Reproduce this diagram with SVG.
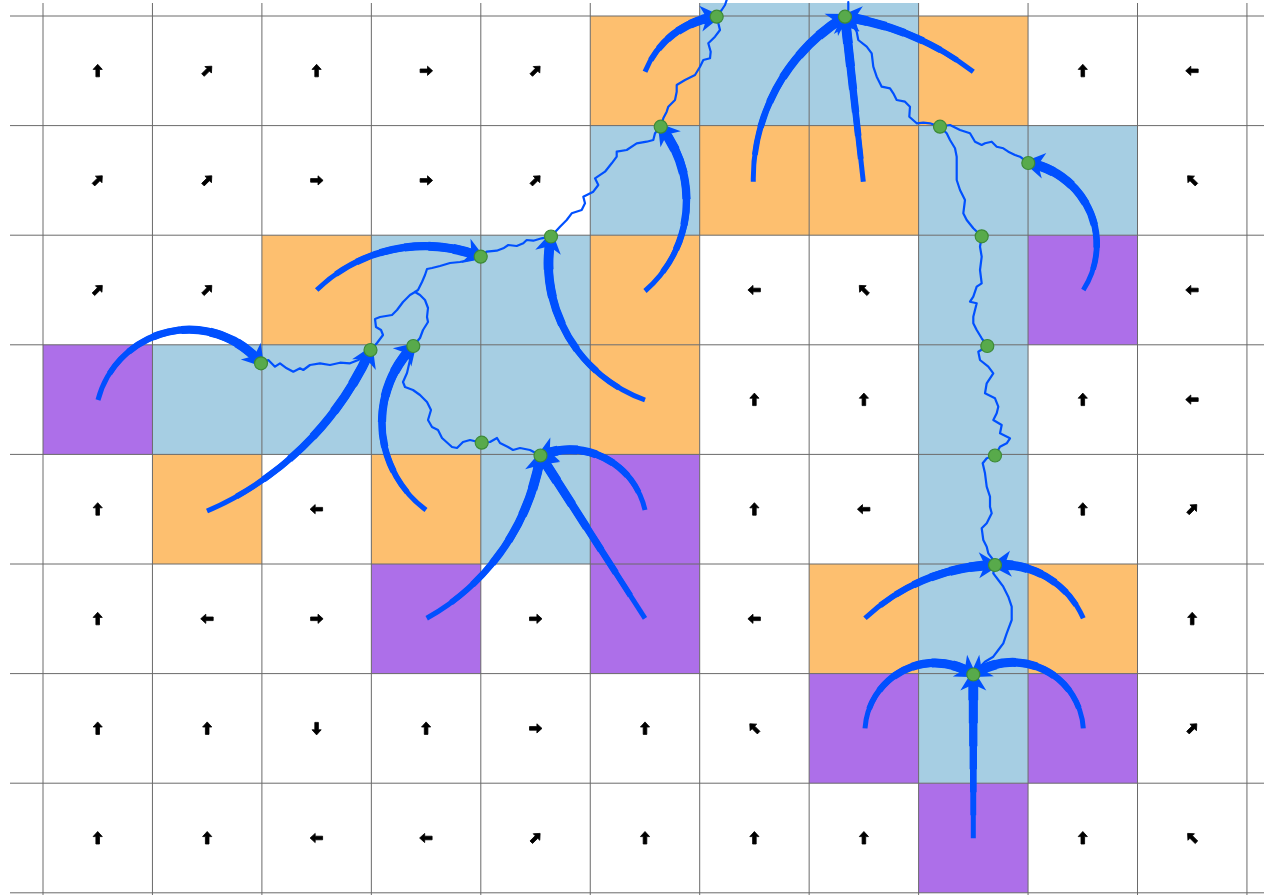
<svg xmlns="http://www.w3.org/2000/svg" xmlns:xlink="http://www.w3.org/1999/xlink" width="1264" height="895" viewBox="0 0 1264 895">
<style>
.or{fill:#fdbf6f}
.bl{fill:#a6cee3}
.pu{fill:#ad6fe9}
.gl{stroke:#6a6a6a;stroke-width:1;fill:none}
.sa{fill:#000;stroke:#000;stroke-width:0.8;stroke-linejoin:round}
.rv{fill:none;stroke:#0050ff;stroke-width:2.2;stroke-linejoin:round;stroke-linecap:round}
.fl{fill:none;stroke:#0050ff}
.w1{stroke-width:5}
.w2{stroke-width:5.8}
.w3{stroke-width:6.6}
.w4{stroke-width:7.4}
.w5{stroke-width:8.2}
.w6{stroke-width:9}
.w7{stroke-width:9.8;marker-end:url(#head)}
.dot{fill:#58aa4b;stroke:#3d8a37;stroke-width:1.2}
</style>
<defs>
<marker id="head" markerUnits="userSpaceOnUse" markerWidth="34" markerHeight="34" viewBox="-22 -17 34 34" refX="0" refY="0" orient="auto" overflow="visible">
<path d="M5,0 L-16,-13 L-10,0 L-16,13 Z" fill="#0050ff" stroke="none"/>
</marker>
<path id="sa" d="M0,-6.5 L4.6,-1.4 L1.8,-1.4 L1.8,6 L-1.8,6 L-1.8,-1.4 L-4.6,-1.4 Z"/>
<path id="a1" d="M98,400 A94,94 0 0 1 261,363.3"/>
<path id="a2" d="M207,511 A316,316 0 0 0 370.5,350"/>
<path id="a3" d="M316.7,290 A155,155 0 0 1 480.7,256.7"/>
<path id="a4" d="M426,510 A109,109 0 0 1 413.3,346"/>
<path id="a5" d="M426.7,618.3 A227,227 0 0 0 540.5,455.5"/>
<path id="a6" d="M645,618.3 L540.5,455.5"/>
<path id="a7" d="M645,510 A77,77 0 0 0 540.5,455.5"/>
<path id="a8" d="M645,400 A145,145 0 0 1 551,236.5"/>
<path id="a9" d="M645,291 A119,119 0 0 0 660.7,126.7"/>
<path id="a10" d="M645,71.7 A88.7,88.7 0 0 1 716.7,16.7"/>
<path id="a11" d="M753.3,181.7 A189.5,189.5 0 0 1 845,16.7"/>
<path id="a12" d="M863.3,181.7 L845,16.7"/>
<path id="a13" d="M973.3,71.7 A285,285 0 0 0 845,16.7"/>
<path id="a14" d="M1083.3,290 A83,83 0 0 0 1028.3,163"/>
<path id="a15" d="M865,618.3 A195.7,195.7 0 0 1 995,565"/>
<path id="a16" d="M1083.3,618.3 A89,89 0 0 0 995,565"/>
<path id="a17" d="M865,728.3 A70,70 0 0 1 973.3,674.5"/>
<path id="a18" d="M1083.3,728.3 A70.6,70.6 0 0 0 973.3,674.5"/>
<path id="a19" d="M973.3,838.3 L973.3,674.5"/>
</defs>
<rect x="0" y="0" width="1264" height="895" fill="#fff"/>
<g id="cells">
<rect class="bl" x="699.7" y="3" width="218.9" height="13"/>
<rect class="or" x="590.25" y="16" width="109.45" height="109.6"/>
<rect class="bl" x="699.7" y="16" width="109.45" height="109.6"/>
<rect class="bl" x="809.15" y="16" width="109.45" height="109.6"/>
<rect class="or" x="918.6" y="16" width="109.45" height="109.6"/>
<rect class="bl" x="590.25" y="125.6" width="109.45" height="109.6"/>
<rect class="or" x="699.7" y="125.6" width="109.45" height="109.6"/>
<rect class="or" x="809.15" y="125.6" width="109.45" height="109.6"/>
<rect class="bl" x="918.6" y="125.6" width="109.45" height="109.6"/>
<rect class="bl" x="1028.05" y="125.6" width="109.45" height="109.6"/>
<rect class="or" x="261.9" y="235.2" width="109.45" height="109.6"/>
<rect class="bl" x="371.35" y="235.2" width="109.45" height="109.6"/>
<rect class="bl" x="480.8" y="235.2" width="109.45" height="109.6"/>
<rect class="or" x="590.25" y="235.2" width="109.45" height="109.6"/>
<rect class="bl" x="918.6" y="235.2" width="109.45" height="109.6"/>
<rect class="pu" x="1028.05" y="235.2" width="109.45" height="109.6"/>
<rect class="pu" x="43" y="344.8" width="109.45" height="109.6"/>
<rect class="bl" x="152.45" y="344.8" width="109.45" height="109.6"/>
<rect class="bl" x="261.9" y="344.8" width="109.45" height="109.6"/>
<rect class="bl" x="371.35" y="344.8" width="109.45" height="109.6"/>
<rect class="bl" x="480.8" y="344.8" width="109.45" height="109.6"/>
<rect class="or" x="590.25" y="344.8" width="109.45" height="109.6"/>
<rect class="bl" x="918.6" y="344.8" width="109.45" height="109.6"/>
<rect class="or" x="152.45" y="454.4" width="109.45" height="109.6"/>
<rect class="or" x="371.35" y="454.4" width="109.45" height="109.6"/>
<rect class="bl" x="480.8" y="454.4" width="109.45" height="109.6"/>
<rect class="pu" x="590.25" y="454.4" width="109.45" height="109.6"/>
<rect class="bl" x="918.6" y="454.4" width="109.45" height="109.6"/>
<rect class="pu" x="371.35" y="564" width="109.45" height="109.6"/>
<rect class="pu" x="590.25" y="564" width="109.45" height="109.6"/>
<rect class="or" x="809.15" y="564" width="109.45" height="109.6"/>
<rect class="bl" x="918.6" y="564" width="109.45" height="109.6"/>
<rect class="or" x="1028.05" y="564" width="109.45" height="109.6"/>
<rect class="pu" x="809.15" y="673.6" width="109.45" height="109.6"/>
<rect class="bl" x="918.6" y="673.6" width="109.45" height="109.6"/>
<rect class="pu" x="1028.05" y="673.6" width="109.45" height="109.6"/>
<rect class="pu" x="918.6" y="783.2" width="109.45" height="109.6"/>
</g>
<g id="grid" class="gl">
<path d="M43,3V895M152.45,3V895M261.9,3V895M371.35,3V895M480.8,3V895M590.25,3V895M699.7,3V895M809.15,3V895M918.6,3V895M1028.05,3V895M1137.5,3V895M1246.95,3V895"/>
<path d="M10,16H1264M10,125.6H1264M10,235.2H1264M10,344.8H1264M10,454.4H1264M10,564H1264M10,673.6H1264M10,783.2H1264M10,892.8H1264"/>
</g>
<g id="flow-arrows" class="sa">
<use href="#sa" transform="translate(97.7,70.8)"/>
<use href="#sa" transform="translate(207.2,70.8) rotate(45)"/>
<use href="#sa" transform="translate(316.6,70.8)"/>
<use href="#sa" transform="translate(426.1,70.8) rotate(90)"/>
<use href="#sa" transform="translate(535.5,70.8) rotate(45)"/>
<use href="#sa" transform="translate(1082.8,70.8)"/>
<use href="#sa" transform="translate(1192.2,70.8) rotate(-90)"/>
<use href="#sa" transform="translate(97.7,180.4) rotate(45)"/>
<use href="#sa" transform="translate(207.2,180.4) rotate(45)"/>
<use href="#sa" transform="translate(316.6,180.4) rotate(90)"/>
<use href="#sa" transform="translate(426.1,180.4) rotate(90)"/>
<use href="#sa" transform="translate(535.5,180.4) rotate(45)"/>
<use href="#sa" transform="translate(1192.2,180.4) rotate(-45)"/>
<use href="#sa" transform="translate(97.7,290) rotate(45)"/>
<use href="#sa" transform="translate(207.2,290) rotate(45)"/>
<use href="#sa" transform="translate(754.4,290) rotate(-90)"/>
<use href="#sa" transform="translate(863.9,290) rotate(-45)"/>
<use href="#sa" transform="translate(1192.2,290) rotate(-90)"/>
<use href="#sa" transform="translate(754.4,399.6)"/>
<use href="#sa" transform="translate(863.9,399.6)"/>
<use href="#sa" transform="translate(1082.8,399.6)"/>
<use href="#sa" transform="translate(1192.2,399.6) rotate(-90)"/>
<use href="#sa" transform="translate(97.7,509.2)"/>
<use href="#sa" transform="translate(316.6,509.2) rotate(-90)"/>
<use href="#sa" transform="translate(754.4,509.2)"/>
<use href="#sa" transform="translate(863.9,509.2) rotate(-90)"/>
<use href="#sa" transform="translate(1082.8,509.2)"/>
<use href="#sa" transform="translate(1192.2,509.2) rotate(45)"/>
<use href="#sa" transform="translate(97.7,618.8)"/>
<use href="#sa" transform="translate(207.2,618.8) rotate(-90)"/>
<use href="#sa" transform="translate(316.6,618.8) rotate(90)"/>
<use href="#sa" transform="translate(535.5,618.8) rotate(90)"/>
<use href="#sa" transform="translate(754.4,618.8) rotate(-90)"/>
<use href="#sa" transform="translate(1192.2,618.8)"/>
<use href="#sa" transform="translate(97.7,728.4)"/>
<use href="#sa" transform="translate(207.2,728.4)"/>
<use href="#sa" transform="translate(316.6,728.4) rotate(180)"/>
<use href="#sa" transform="translate(426.1,728.4)"/>
<use href="#sa" transform="translate(535.5,728.4) rotate(90)"/>
<use href="#sa" transform="translate(645,728.4)"/>
<use href="#sa" transform="translate(754.4,728.4) rotate(-45)"/>
<use href="#sa" transform="translate(1192.2,728.4) rotate(45)"/>
<use href="#sa" transform="translate(97.7,838)"/>
<use href="#sa" transform="translate(207.2,838)"/>
<use href="#sa" transform="translate(316.6,838) rotate(-90)"/>
<use href="#sa" transform="translate(426.1,838) rotate(-90)"/>
<use href="#sa" transform="translate(535.5,838) rotate(45)"/>
<use href="#sa" transform="translate(645,838)"/>
<use href="#sa" transform="translate(754.4,838)"/>
<use href="#sa" transform="translate(863.9,838)"/>
<use href="#sa" transform="translate(1082.8,838)"/>
<use href="#sa" transform="translate(1192.2,838) rotate(-45)"/>
</g>
<g id="connectors">
<g id="rivers" class="rv">
<polyline points="261,363.3 268.3,360 275,366.7 280,363.3 286.7,368.3 293.3,371.7 300,368.3 303.3,370 310,365 320,363.3 330,365 340,362.7 350,363.3 358.3,360 363.3,356.7 370.5,350"/>
<polyline points="370.5,350 377,343 383,335 381,330 376,327 375,319 380,317 392,315 397,310 403,302 410,295 415,292 418,290 422,282 425,275 427,269 432,268 440,266 450,263 460,262 473,259 480.7,256.7"/>
<polyline points="413.3,346 420,338 423,330 428,322 427,317 428,308 425,300 420,295 415,292"/>
<polyline points="480.7,256.7 486.7,251.7 496.7,250.7 503.3,248.3 508.3,245 516.7,246 523.3,243.3 526.7,240 533.3,240.7 541.7,238.3 551,236.5"/>
<polyline points="551,236.5 560,226.7 566.7,220 571.7,213.3 581.7,210 585,203.3 583.3,196.7 593.3,191.7 598.3,185 595,178.3 605,171.7 611.7,163.3 616.7,156.7 616.7,151.7 626.7,150 636.7,143.3 646.7,141.7 653.3,140 655,133.3 660.7,126.7"/>
<polyline points="660.7,126.7 663.3,118.3 666.7,111.7 668.3,106.7 675,100 676.7,91.7 676.7,85 685,80 695,75 700,66.7 703.3,60 710,58.3 710.7,51.7 708.3,43.3 715,36.7 720,30 716.7,16.7 721.7,10 725,5 726.7,0"/>
<polyline points="540.5,455.5 530,450 520,448 513,450 508,447 500,443 497,438 490,442 481.7,442.7 470,440 463,442 457,448 452,447 442,438 438,430 432,427 428,420 431,410 427,402 420,395 413,390 405,387 403,382 407,373 410,360 413.3,346"/>
<polyline points="845,16.7 848.3,10 848.3,2"/>
<polyline points="940,126.7 930,123.3 923.3,122.7 916.7,123.3 909.3,116.7 910,106.7 905,101.7 896.7,100 893.3,93.3 890,88.3 881.7,86.7 876.7,76.7 873.3,66.7 871.7,53.3 866.7,46.7 858.3,40 856.7,31.7 851.7,23.3 845,16.7"/>
<polyline points="1028.3,163 1020,156.7 1015,155 1008.3,151.7 1003.3,148.3 996.7,146.7 991.7,141.7 985,143.3 981.7,145 975,141.7 970,133.3 960,130 950,125 940,126.7"/>
<polyline points="981.7,236.3 973.3,228.3 966.7,220 963.3,213.3 965,200 960,190 956.7,180 956.7,170 956.7,156.7 955,148.3 950,140 946.7,133.3 940,126.7"/>
<polyline points="987.3,346 981.7,338.3 976.7,330 973.3,323.3 973.3,316.7 976.7,303.3 970,301.7 973.3,296.7 976.7,286.7 981.7,283.3 980,270 981.7,256.7 980,246.7 981.7,236.3"/>
<polyline points="995,455.5 1000,446.7 1006.7,443.3 1010,438.3 1000,433.3 1001.7,425 993.3,420 996.7,413.3 998.3,406.7 995,398.3 985,393.3 986.7,383.3 993.3,373.3 988.3,366.7 980,360 978.3,351.7 987.3,346"/>
<polyline points="995,565 993.3,560 988.3,553.3 986.7,546.7 983.3,540 981.7,528.3 986.7,523.3 991.7,513.3 990,506.7 990,496.7 986.7,486.7 985,473.3 982.7,463.3 986.7,458.3 995,455.5"/>
<polyline points="973.3,674.5 980,666.7 985,661.7 993.3,656.7 998.3,650 1003.3,643.3 1006.7,633.3 1011.7,620 1011.7,606.7 1008.3,596.7 1003.3,586.7 998.3,580 993.3,573.3 995,565"/>
</g>
<g id="flows">
<g id="f1" class="fl"><use href="#a1" class="w1"/><use href="#a1" class="w2" style="stroke-dasharray:0 29 9999"/><use href="#a1" class="w3" style="stroke-dasharray:0 58 9999"/><use href="#a1" class="w4" style="stroke-dasharray:0 87 9999"/><use href="#a1" class="w5" style="stroke-dasharray:0 116 9999"/><use href="#a1" class="w6" style="stroke-dasharray:0 145 9999"/><use href="#a1" class="w7" style="stroke-dasharray:0 174 9999"/></g>
<g id="f2" class="fl"><use href="#a2" class="w1"/><use href="#a2" class="w2" style="stroke-dasharray:0 33 9999"/><use href="#a2" class="w3" style="stroke-dasharray:0 65 9999"/><use href="#a2" class="w4" style="stroke-dasharray:0 98 9999"/><use href="#a2" class="w5" style="stroke-dasharray:0 130 9999"/><use href="#a2" class="w6" style="stroke-dasharray:0 163 9999"/><use href="#a2" class="w7" style="stroke-dasharray:0 196 9999"/></g>
<g id="f3" class="fl"><use href="#a3" class="w1"/><use href="#a3" class="w2" style="stroke-dasharray:0 25 9999"/><use href="#a3" class="w3" style="stroke-dasharray:0 49 9999"/><use href="#a3" class="w4" style="stroke-dasharray:0 74 9999"/><use href="#a3" class="w5" style="stroke-dasharray:0 99 9999"/><use href="#a3" class="w6" style="stroke-dasharray:0 123 9999"/><use href="#a3" class="w7" style="stroke-dasharray:0 148 9999"/></g>
<g id="f4" class="fl"><use href="#a4" class="w1"/><use href="#a4" class="w2" style="stroke-dasharray:0 26 9999"/><use href="#a4" class="w3" style="stroke-dasharray:0 51 9999"/><use href="#a4" class="w4" style="stroke-dasharray:0 77 9999"/><use href="#a4" class="w5" style="stroke-dasharray:0 102 9999"/><use href="#a4" class="w6" style="stroke-dasharray:0 128 9999"/><use href="#a4" class="w7" style="stroke-dasharray:0 154 9999"/></g>
<g id="f5" class="fl"><use href="#a5" class="w1"/><use href="#a5" class="w2" style="stroke-dasharray:0 29 9999"/><use href="#a5" class="w3" style="stroke-dasharray:0 57 9999"/><use href="#a5" class="w4" style="stroke-dasharray:0 86 9999"/><use href="#a5" class="w5" style="stroke-dasharray:0 114 9999"/><use href="#a5" class="w6" style="stroke-dasharray:0 143 9999"/><use href="#a5" class="w7" style="stroke-dasharray:0 171 9999"/></g>
<g id="f6" class="fl"><use href="#a6" class="w1"/><use href="#a6" class="w2" style="stroke-dasharray:0 27 9999"/><use href="#a6" class="w3" style="stroke-dasharray:0 54 9999"/><use href="#a6" class="w4" style="stroke-dasharray:0 81 9999"/><use href="#a6" class="w5" style="stroke-dasharray:0 108 9999"/><use href="#a6" class="w6" style="stroke-dasharray:0 135 9999"/><use href="#a6" class="w7" style="stroke-dasharray:0 163 9999"/></g>
<g id="f7" class="fl"><use href="#a7" class="w1"/><use href="#a7" class="w2" style="stroke-dasharray:0 19 9999"/><use href="#a7" class="w3" style="stroke-dasharray:0 39 9999"/><use href="#a7" class="w4" style="stroke-dasharray:0 58 9999"/><use href="#a7" class="w5" style="stroke-dasharray:0 77 9999"/><use href="#a7" class="w6" style="stroke-dasharray:0 96 9999"/><use href="#a7" class="w7" style="stroke-dasharray:0 116 9999"/></g>
<g id="f8" class="fl"><use href="#a8" class="w1"/><use href="#a8" class="w2" style="stroke-dasharray:0 29 9999"/><use href="#a8" class="w3" style="stroke-dasharray:0 57 9999"/><use href="#a8" class="w4" style="stroke-dasharray:0 86 9999"/><use href="#a8" class="w5" style="stroke-dasharray:0 115 9999"/><use href="#a8" class="w6" style="stroke-dasharray:0 144 9999"/><use href="#a8" class="w7" style="stroke-dasharray:0 172 9999"/></g>
<g id="f9" class="fl"><use href="#a9" class="w1"/><use href="#a9" class="w2" style="stroke-dasharray:0 26 9999"/><use href="#a9" class="w3" style="stroke-dasharray:0 52 9999"/><use href="#a9" class="w4" style="stroke-dasharray:0 78 9999"/><use href="#a9" class="w5" style="stroke-dasharray:0 104 9999"/><use href="#a9" class="w6" style="stroke-dasharray:0 130 9999"/><use href="#a9" class="w7" style="stroke-dasharray:0 155 9999"/></g>
<g id="f10" class="fl"><use href="#a10" class="w1"/><use href="#a10" class="w2" style="stroke-dasharray:0 13 9999"/><use href="#a10" class="w3" style="stroke-dasharray:0 27 9999"/><use href="#a10" class="w4" style="stroke-dasharray:0 40 9999"/><use href="#a10" class="w5" style="stroke-dasharray:0 53 9999"/><use href="#a10" class="w6" style="stroke-dasharray:0 67 9999"/><use href="#a10" class="w7" style="stroke-dasharray:0 80 9999"/></g>
<g id="f11" class="fl"><use href="#a11" class="w1"/><use href="#a11" class="w2" style="stroke-dasharray:0 27 9999"/><use href="#a11" class="w3" style="stroke-dasharray:0 55 9999"/><use href="#a11" class="w4" style="stroke-dasharray:0 82 9999"/><use href="#a11" class="w5" style="stroke-dasharray:0 110 9999"/><use href="#a11" class="w6" style="stroke-dasharray:0 137 9999"/><use href="#a11" class="w7" style="stroke-dasharray:0 165 9999"/></g>
<g id="f12" class="fl"><use href="#a12" class="w1"/><use href="#a12" class="w2" style="stroke-dasharray:0 23 9999"/><use href="#a12" class="w3" style="stroke-dasharray:0 46 9999"/><use href="#a12" class="w4" style="stroke-dasharray:0 70 9999"/><use href="#a12" class="w5" style="stroke-dasharray:0 93 9999"/><use href="#a12" class="w6" style="stroke-dasharray:0 116 9999"/><use href="#a12" class="w7" style="stroke-dasharray:0 139 9999"/></g>
<g id="f13" class="fl"><use href="#a13" class="w1"/><use href="#a13" class="w2" style="stroke-dasharray:0 20 9999"/><use href="#a13" class="w3" style="stroke-dasharray:0 39 9999"/><use href="#a13" class="w4" style="stroke-dasharray:0 59 9999"/><use href="#a13" class="w5" style="stroke-dasharray:0 79 9999"/><use href="#a13" class="w6" style="stroke-dasharray:0 99 9999"/><use href="#a13" class="w7" style="stroke-dasharray:0 118 9999"/></g>
<g id="f14" class="fl"><use href="#a14" class="w1"/><use href="#a14" class="w2" style="stroke-dasharray:0 23 9999"/><use href="#a14" class="w3" style="stroke-dasharray:0 45 9999"/><use href="#a14" class="w4" style="stroke-dasharray:0 68 9999"/><use href="#a14" class="w5" style="stroke-dasharray:0 91 9999"/><use href="#a14" class="w6" style="stroke-dasharray:0 114 9999"/><use href="#a14" class="w7" style="stroke-dasharray:0 137 9999"/></g>
<g id="f15" class="fl"><use href="#a15" class="w1"/><use href="#a15" class="w2" style="stroke-dasharray:0 20 9999"/><use href="#a15" class="w3" style="stroke-dasharray:0 39 9999"/><use href="#a15" class="w4" style="stroke-dasharray:0 59 9999"/><use href="#a15" class="w5" style="stroke-dasharray:0 78 9999"/><use href="#a15" class="w6" style="stroke-dasharray:0 98 9999"/><use href="#a15" class="w7" style="stroke-dasharray:0 118 9999"/></g>
<g id="f16" class="fl"><use href="#a16" class="w1"/><use href="#a16" class="w2" style="stroke-dasharray:0 15 9999"/><use href="#a16" class="w3" style="stroke-dasharray:0 31 9999"/><use href="#a16" class="w4" style="stroke-dasharray:0 46 9999"/><use href="#a16" class="w5" style="stroke-dasharray:0 62 9999"/><use href="#a16" class="w6" style="stroke-dasharray:0 77 9999"/><use href="#a16" class="w7" style="stroke-dasharray:0 92 9999"/></g>
<g id="f17" class="fl"><use href="#a17" class="w1"/><use href="#a17" class="w2" style="stroke-dasharray:0 20 9999"/><use href="#a17" class="w3" style="stroke-dasharray:0 41 9999"/><use href="#a17" class="w4" style="stroke-dasharray:0 61 9999"/><use href="#a17" class="w5" style="stroke-dasharray:0 82 9999"/><use href="#a17" class="w6" style="stroke-dasharray:0 102 9999"/><use href="#a17" class="w7" style="stroke-dasharray:0 123 9999"/></g>
<g id="f18" class="fl"><use href="#a18" class="w1"/><use href="#a18" class="w2" style="stroke-dasharray:0 21 9999"/><use href="#a18" class="w3" style="stroke-dasharray:0 41 9999"/><use href="#a18" class="w4" style="stroke-dasharray:0 62 9999"/><use href="#a18" class="w5" style="stroke-dasharray:0 82 9999"/><use href="#a18" class="w6" style="stroke-dasharray:0 103 9999"/><use href="#a18" class="w7" style="stroke-dasharray:0 123 9999"/></g>
<g id="f19" class="fl"><use href="#a19" class="w1"/><use href="#a19" class="w2" style="stroke-dasharray:0 23 9999"/><use href="#a19" class="w3" style="stroke-dasharray:0 46 9999"/><use href="#a19" class="w4" style="stroke-dasharray:0 69 9999"/><use href="#a19" class="w5" style="stroke-dasharray:0 92 9999"/><use href="#a19" class="w6" style="stroke-dasharray:0 115 9999"/><use href="#a19" class="w7" style="stroke-dasharray:0 138 9999"/></g>
</g>
</g>
<g id="nodes">
<circle id="n1" class="dot" cx="716.7" cy="16.7" r="6.5"/>
<circle id="n2" class="dot" cx="845" cy="16.7" r="6.5"/>
<circle id="n3" class="dot" cx="660.7" cy="126.7" r="6.5"/>
<circle id="n4" class="dot" cx="940" cy="126.7" r="6.5"/>
<circle id="n5" class="dot" cx="1028.3" cy="163" r="6.5"/>
<circle id="n6" class="dot" cx="551" cy="236.5" r="6.5"/>
<circle id="n7" class="dot" cx="480.7" cy="256.7" r="6.5"/>
<circle id="n8" class="dot" cx="981.7" cy="236.3" r="6.5"/>
<circle id="n9" class="dot" cx="261" cy="363.3" r="6.5"/>
<circle id="n10" class="dot" cx="370.5" cy="350" r="6.5"/>
<circle id="n11" class="dot" cx="413.3" cy="346" r="6.5"/>
<circle id="n12" class="dot" cx="987.3" cy="346" r="6.5"/>
<circle id="n13" class="dot" cx="481.7" cy="442.7" r="6.5"/>
<circle id="n14" class="dot" cx="540.5" cy="455.5" r="6.5"/>
<circle id="n15" class="dot" cx="995" cy="455.5" r="6.5"/>
<circle id="n16" class="dot" cx="995" cy="565" r="6.5"/>
<circle id="n17" class="dot" cx="973.3" cy="674.5" r="6.5"/>
</g>
</svg>
